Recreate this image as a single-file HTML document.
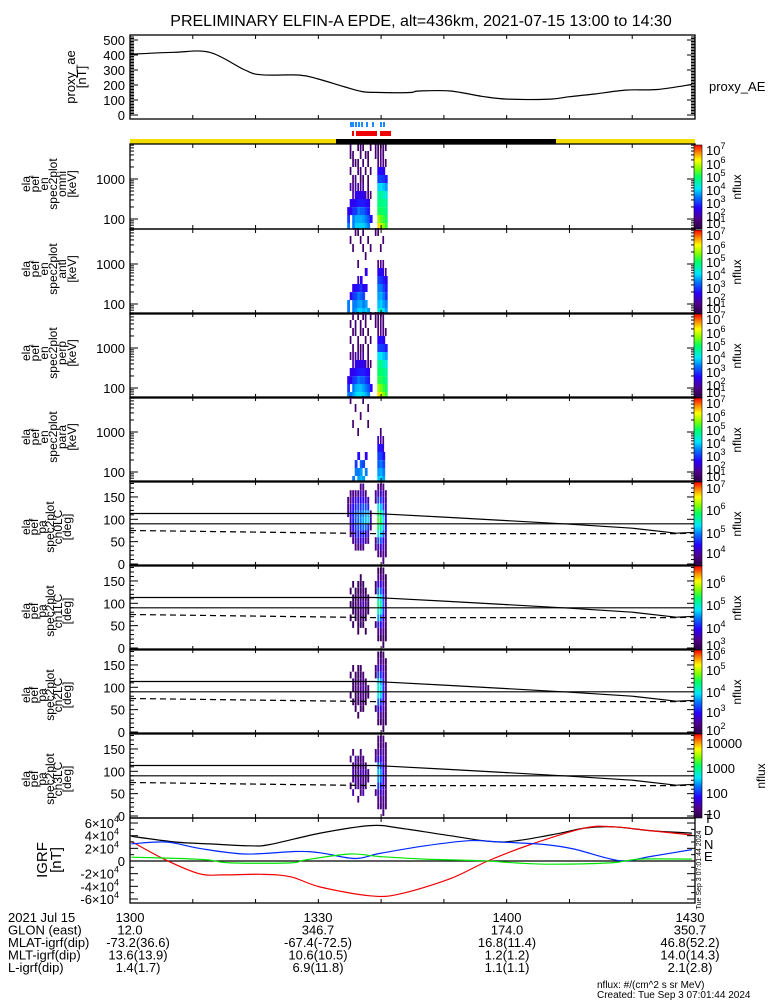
<!DOCTYPE html>
<html><head><meta charset="utf-8"><style>
html,body{margin:0;padding:0;background:#fff}
svg{display:block}
text{font-family:"Liberation Sans",sans-serif;fill:#000}
</style></head><body>
<svg id="fig" width="775" height="1000" viewBox="0 0 775 1000" xmlns="http://www.w3.org/2000/svg">
<defs>
<linearGradient id="cbar" x1="0" y1="1" x2="0" y2="0">
<stop offset="0" stop-color="#28003c"/><stop offset="0.12" stop-color="#50008c"/><stop offset="0.25" stop-color="#2800ff"/><stop offset="0.38" stop-color="#0078ff"/><stop offset="0.48" stop-color="#00e6ff"/><stop offset="0.62" stop-color="#00ff64"/><stop offset="0.72" stop-color="#82ff00"/><stop offset="0.82" stop-color="#ffff00"/><stop offset="0.9" stop-color="#ff9600"/><stop offset="1" stop-color="#ff0000"/>
</linearGradient>
</defs>
<text x="421" y="26" font-size="16" text-anchor="middle">PRELIMINARY ELFIN-A EPDE, alt=436km, 2021-07-15 13:00 to 14:30</text>
<g id="root"></g>
</svg>
<script>
// ---------- data ----------
const aeTimes = [0,7,12.7,18.3,21,27,30,34,37,40,44.6,46,51,56,60,67,70,74,79,84,89.5];
const aeValues = [405,418,418,300,268,266,240,190,156,150,150,160,160,125,106,106,122,140,166,170,204];
const aeTicks = [0,100,200,300,400,500];

const specTimes = [34.6,35.0,35.4,35.8,36.2,36.6,37.0,37.4,37.8,38.2,38.6,39.0,39.4,39.8,40.2,40.6];
const energyBins = [63,100,158,251,398,631,1000,1585,2512,3981,6310];
const omniFlux = [
[3,2.5,2,0,0,0,0,0,0,0,0],[0,0,2,2,0,1.5,0,1,0,1,1],[3,3,2.5,2,1.5,1.2,1,0,1,1,0],[3.5,3.3,2.5,2.2,2,1.5,1.2,0,1,0,0],
[3.5,3.3,3,2.3,2,1.5,0,1.2,1,0,1],[3.5,3.3,2.8,2.3,2,1.2,1,1,0,1,1],[3.5,3.2,2.8,2.3,2,1.5,1,0,1,0,1],[3.3,3,2.5,2.2,1.5,0,0,1,0,1,0],
[3,2.7,2.3,2,1.2,1,1,0,1,1,0],[0,2.2,0,0,1,0,0,1,0,0,1],[0,0,0,0,0,0,0,0,0,0,0],[0,0,0,0,0,0,0,0,0,1,1],
[6,5.3,4.6,4.4,4.2,3.5,2.6,2.1,1.3,1.2,1],[5.5,5,4.6,4.4,4.2,3.6,2.6,2.2,1.3,1.2,1],[5.2,4.8,4.5,4.3,4,3.4,2.5,2,1.2,1,1],[4.8,4.6,4.3,4.2,3.8,3.2,2.3,0,1,0,1]];
const antiFlux = [
[3,3,0,0,0,0,0,0,0,0,0],[0,0,2,0,0,0,0,0,0,1,0],[3,3,2.5,2,0,0,0,0,1,0,0],[3.2,3,2.6,2.2,0,0,0,0,0,0,1],
[3.5,3.2,3,2.3,1.8,0,1,0,0,0,1],[3.5,3.3,2.8,2.5,2,0,0,0,0,1,0],[3.3,3,2.6,2,0,0,0,0,1,0,1],[3.5,3.2,0,2.2,0,2,0,1,0,0,0],
[3.2,0,0,0,0,0,0,0,0,1,0],[0,0,0,0,0,0,0,0,1,0,0],[0,0,0,0,0,0,0,0,0,0,0],[0,0,0,0,0,0,0,0,0,0,1],
[3.8,3.4,3.2,3,2.6,2,1.3,0,0,0,1],[4,3.5,3.3,3,2.5,2.2,1.3,0,1,0,0],[3.6,3.2,3,2.6,2.3,1.8,1.2,0,0,1,0],[3.2,3,2.5,2.3,2,1.5,0,0,0,0,0]];
const perpFlux = [
[3,2.5,2,0,0,0,0,0,0,0,0],[3,0,2,2,0,1.2,0,1,0,1,0],[3.2,3,2.5,2,1.5,1.2,1,0,1,0,1],[3.5,3.3,2.6,2.2,2,1.5,0,0,1,1,0],
[3.6,3.4,3,2.3,2,1.5,1,1.2,0,0,1],[3.6,3.4,2.8,2.3,2,1.2,1,0,1,1,0],[3.5,3.2,2.8,2.3,2,1.5,1,0,1,0,1],[3.3,3,2.5,2.2,1.5,0,0,1,0,1,1],
[3,2.7,2.3,2,1.2,1,1,0,1,0,0],[0,2.2,0,0,1,0,0,1,0,0,1],[0,0,0,0,0,0,0,0,0,0,0],[0,0,0,0,0,0,0,0,0,1,1],
[6,5.3,4.7,4.5,4.3,3.6,2.6,2.1,1.3,1.2,1],[5.6,5.1,4.7,4.5,4.3,3.7,2.6,2.2,1.3,1.2,1],[5.2,4.8,4.5,4.3,4,3.4,2.5,2,1.2,1,1],[4.8,4.6,4.3,4.2,3.8,3.2,2.3,0,1,0,0]];
const paraFlux = [
[0,0,0,0,0,0,0,0,0,0,0],[0,0,0,0,0,0,0,0,0,0,1],[3,0,0,0,0,0,0,1,0,0,0],[0,3,2.5,0,0,0,0,0,0,1,0],
[3.2,3,0,2.2,0,0,1,0,0,0,0],[3.4,3.2,2.8,0,0,0,0,0,1,0,0],[3.2,0,2.6,0,0,0,0,0,0,0,1],[0,3,0,2,0,0,0,0,0,0,0],
[0,0,0,0,0,0,0,1,0,1,0],[0,0,0,0,0,0,0,0,0,0,0],[0,0,0,0,0,0,0,0,0,0,0],[0,0,0,0,0,0,0,0,0,0,0],
[3.5,3.2,2.8,2.6,2.2,1.8,0,0,0,0,0],[3.6,3.3,3,2.6,2.3,1.5,1,0,0,0,0],[3.2,3,2.6,2.2,1.8,1.2,0,0,0,0,0],[0,0,0,0,0,0,0,0,0,0,0]];

const pitchBins = [7.5,22.5,37.5,52.5,67.5,82.5,97.5,112.5,127.5,142.5,157.5,172.5];
const ch0Flux = [
[0,0,0,0,0,0,0,4,4,4,0,0],[0,0,0,0,4,4.2,4.3,4.5,4.3,4,4,0],[0,0,0,4,4.2,4.5,4.6,4.6,4.5,4.3,4,0],[0,0,4,4.2,4.5,4.7,4.8,4.8,4.6,4.4,4,0],
[0,0,4,4.3,4.6,4.8,4.9,4.9,4.7,4.5,4.1,0],[0,0,4,4.3,4.6,4.8,5,4.9,4.7,4.5,4.2,4],[0,0,4,4.3,4.6,4.9,5.1,5,4.8,4.5,4.2,4],[0,0,0,4.2,4.5,4.9,5.2,5.1,4.8,4.4,4,0],
[0,0,0,4,4.3,4.7,5.3,5.2,4.6,4.2,0,0],[0,0,0,0,0,4,4.2,4,0,0,0,0],[0,0,0,0,0,0,0,0,0,0,0,0],[0,0,4,4,0,0,0,0,0,4,4,0],
[0,4,4.3,4.8,5.4,5.8,6,5.8,5.3,4.8,4.3,4],[0,4,4.3,4.8,5.3,5.7,5.9,5.7,5.2,4.7,4.2,4],[4,4,4.2,4.5,4.9,5.2,5.3,5.2,4.8,4.5,4.2,4],[0,4,4,4.2,4.3,4.5,4.5,4.4,4.3,4.2,4,0]];
const ch1Flux = [
[0,0,0,0,0,0,0,0,0,0,0,0],[0,0,0,0,3,0,3,0,3,0,0,0],[0,0,0,3,0,3,3,3,0,3,0,0],[0,0,0,0,3,3,3.1,3,3,0,0,0],
[0,0,3,3,3,3.1,3.2,3.1,3,3,0,0],[0,0,0,3,3.1,3.2,3.3,3.2,3,3,3,0],[0,0,0,3,3,3.2,3.4,3.2,3.1,3,0,0],[0,0,3,0,3,3.1,3.3,3.1,3,0,0,0],
[0,0,0,0,0,3,3,3,0,0,0,0],[0,0,0,0,0,0,0,0,0,0,0,0],[0,0,0,0,0,0,0,0,0,0,0,0],[0,0,0,3,0,0,0,0,3,3,0,0],
[0,3,3.3,3.8,4.3,4.8,5,4.7,4.2,3.7,3.3,3],[0,3,3.3,3.7,4.2,4.7,4.9,4.6,4.1,3.6,3.2,3],[3,3,3.2,3.4,3.7,4,4.1,4,3.7,3.4,3.2,3],[0,3,3,3.1,3.2,3.3,3.3,3.2,3.1,3,3,0]];
const ch2Flux = [
[0,0,0,0,0,0,0,0,0,0,0,0],[0,0,0,0,0,2,0,0,2,0,0,0],[0,0,0,0,2,0,2,2,0,2,0,0],[0,0,0,2,2,2,2.1,2,2,0,0,0],
[0,0,2,0,2,2.1,2.2,2.1,2,2,0,0],[0,0,0,2,2.1,2.2,2.3,2.2,2,2,0,0],[0,0,0,2,2,2.2,2.3,2.2,2.1,0,0,0],[0,0,0,0,2,2.1,2.2,2.1,0,0,0,0],
[0,0,0,0,0,2,2,0,0,0,0,0],[0,0,0,0,0,0,0,0,0,0,0,0],[0,0,0,0,0,0,0,0,0,0,0,0],[0,0,0,2,0,0,0,0,2,2,0,0],
[0,2,2.3,2.8,3.3,3.9,4.1,3.8,3.2,2.7,2.3,2],[0,2,2.3,2.7,3.2,3.8,4,3.7,3.1,2.6,2.2,2],[2,2,2.2,2.4,2.7,3,3.1,3,2.7,2.4,2.2,2],[0,2,2,2.1,2.2,2.3,2.3,2.2,2.1,2,2,0]];
const ch3Flux = [
[0,0,0,0,0,0,0,0,0,0,0,0],[0,0,0,0,1.3,0,0,0,1.3,0,0,0],[0,0,0,1.5,0,1.3,1.5,1.3,0,1.3,0,0],[0,0,0,0,1.3,1.5,1.3,1.3,1.5,0,0,0],
[0,0,1.3,0,1.5,1.3,1.5,1.3,1.3,0,0,0],[0,0,0,1.3,1.3,1.5,1.5,1.3,1.3,1.3,0,0],[0,0,0,1.5,1.3,1.3,1.5,1.3,1.3,0,0,0],[0,0,0,0,1.3,1.3,1.5,1.3,0,0,0,0],
[0,0,0,0,0,1.3,1.3,0,0,0,0,0],[0,0,0,0,0,0,0,0,0,0,0,0],[0,0,0,0,0,0,0,0,0,0,0,0],[0,0,0,1.3,0,0,0,0,1.3,1.3,0,0],
[0,1.3,1.4,1.6,2,2.3,2.4,2.2,1.8,1.5,1.3,1.3],[0,1.3,1.4,1.6,1.9,2.2,2.3,2.1,1.7,1.5,1.3,1.3],[1.3,1.3,1.3,1.5,1.6,1.8,1.8,1.7,1.5,1.4,1.3,1.3],[0,1.3,1.3,1.3,1.4,1.4,1.4,1.4,1.3,1.3,1.3,0]];

const lcTimes = [0,39,50,60,70,80,87,90];
const lossCone = [113,113,105,97,89,80,69,71];
const antiLossCone = [75,68,68,68,68,68,68,69];
const perpAngle = 90;

const igrfTimes = [0.2,7.2,12.7,19,22.3,30.3,38.2,43,51,59,67,72.4,77,82.8,89.5];
const igrfT = [3.9,3.0,2.7,2.4,2.6,4.4,5.6,5.2,4.0,3.0,4.1,5.2,5.4,4.8,4.4];
const igrfTimesD = [0.2,5.6,11,14.8,21,25.6,30.3,38.2,43,51,57,63.8,72.4,77,82.8,89.5];
const igrfD = [3.1,0.2,-2.0,-2.2,-2.1,-2.5,-4.1,-5.5,-5.2,-2.8,0,2.6,5.2,5.4,4.8,4.1];
const igrfTimesN = [0.2,5.8,11,18.3,26.3,30.3,35.8,39.8,47,54,59,66,70.7,78,82.8,89.5];
const igrfN = [2.7,3.0,2.0,1.1,1.5,1.3,0.4,1.2,2.4,3.2,3.0,2.6,1.9,0.05,0.7,1.8];
const igrfTimesE = [0.2,8,12.7,16,25.6,27.8,35,39.8,47,56,61.4,67,76.5,81.2,89.5];
const igrfE = [0.6,0.4,0.15,-0.3,-0.3,0.15,1.1,0.7,0.3,0.05,-0.3,-0.5,-0.3,0.3,0.3];

const footerRows = [
 ['2021 Jul 15','1300','1330','1400','1430'],
 ['GLON (east)','12.0','346.7','174.0','350.7'],
 ['MLAT-igrf(dip)','-73.2(36.6)','-67.4(-72.5)','16.8(11.4)','46.8(52.2)'],
 ['MLT-igrf(dip)','13.6(13.9)','10.6(10.5)','1.2(1.2)','14.0(14.3)'],
 ['L-igrf(dip)','1.4(1.7)','6.9(11.8)','1.1(1.1)','2.1(2.8)']];

// ---------- helpers ----------
const NS='http://www.w3.org/2000/svg';
const root=document.getElementById('root');
const X0=130,X1=695;
function xT(t){return X0+t*(X1-X0)/90;}
function mk(tag,attrs,parent){const e=document.createElementNS(NS,tag);for(const k in attrs)e.setAttribute(k,attrs[k]);(parent||root).appendChild(e);return e;}
const stops=[[0,[40,0,60]],[0.12,[80,0,140]],[0.25,[40,0,255]],[0.38,[0,120,255]],[0.48,[0,230,255]],[0.62,[0,255,100]],[0.72,[130,255,0]],[0.82,[255,255,0]],[0.9,[255,150,0]],[1,[255,0,0]]];
function cmap(f){f=Math.max(0,Math.min(1,f));for(let i=1;i<stops.length;i++){if(f<=stops[i][0]){const a=stops[i-1],b=stops[i],u=(f-a[0])/(b[0]-a[0]);const c=a[1].map((v,j)=>Math.round(v+(b[1][j]-v)*u));return `rgb(${c})`;}}return 'rgb(255,0,0)';}
function frame(y0,y1,name){
  const r=mk('rect',{x:X0,y:y0,width:X1-X0,height:y1-y0,fill:'none',stroke:'#000','stroke-width':1.3});
  
  
  for(let t=10;t<90;t+=10){
    mk('line',{x1:xT(t),x2:xT(t),y1:y0,y2:y0+4,stroke:'#000'});
    mk('line',{x1:xT(t),x2:xT(t),y1:y1,y2:y1-4,stroke:'#000'});
  }
}
function ytick(y,len){mk('line',{x1:X0,x2:X0+len,y1:y,y2:y,stroke:'#000'});mk('line',{x1:X1,x2:X1-len,y1:y,y2:y,stroke:'#000'});}
function ylabel(x,y,s,name){const t=mk('text',{x:x,y:y+5,'font-size':13,'text-anchor':'end'});t.textContent=s;return t;}
function vtitle(lines,xs,yc,fs,name){
  const g=mk('g',{});
  
  
  lines.forEach((s,i)=>{const t=mk('text',{x:0,y:0,'font-size':fs,'text-anchor':'middle',transform:`translate(${xs[i]},${yc}) rotate(-90)`},g);t.textContent=s;});
}
function colorbar(y0,y1,labels,ys,name){
  const r=mk('rect',{x:694,y:y0,width:8,height:y1-y0,fill:'url(#cbar)',stroke:'#000','stroke-width':0.6});
  
  
  labels.forEach((lb,i)=>{
    const t=mk('text',{x:706,y:ys[i]+5,'font-size':13});
    if(typeof lb==='number'){t.textContent='10';const s=mk('tspan',{dy:-6,'font-size':9},t);s.textContent=lb;}else t.textContent=lb;
  });
  const n=mk('text',{x:0,y:0,'font-size':12,'text-anchor':'middle',transform:`translate(${name==='ch3'?765:741},${(y0+y1)/2}) rotate(-90)`});
  n.textContent='nflux';
}
function smoothPath(P){
  let d='M'+P[0][0].toFixed(1)+','+P[0][1].toFixed(1);
  for(let i=0;i<P.length-1;i++){
    const p0=P[Math.max(0,i-1)],p1=P[i],p2=P[i+1],p3=P[Math.min(P.length-1,i+2)];
    const c1=[p1[0]+(p2[0]-p0[0])/6,p1[1]+(p2[1]-p0[1])/6],c2=[p2[0]-(p3[0]-p1[0])/6,p2[1]-(p3[1]-p1[1])/6];
    d+=` C${c1[0].toFixed(1)},${c1[1].toFixed(1)} ${c2[0].toFixed(1)},${c2[1].toFixed(1)} ${p2[0].toFixed(1)},${p2[1].toFixed(1)}`;
  }
  return d;
}
function polyline(ts,vs,fx,fy,col,dash,name,smooth){
  const P=ts.map((t,i)=>[fx(t),fy(vs[i])]);
  const d=smooth?smoothPath(P):'M'+P.map(p=>p[0].toFixed(1)+','+p[1].toFixed(1)).join(' L');
  const p=mk('path',{d:d,fill:'none',stroke:col,'stroke-width':1.2});
  if(dash)p.setAttribute('stroke-dasharray',dash);
  
  
}

// ---------- proxy AE ----------
(function(){
  const y0=35,y1=119;const yV=v=>115-v*(75/500);
  frame(y0,y1,'proxy-ae');
  for(let v=0;v<=520;v+=10){ytick(yV(v),v%100===0?8:4);}
  aeTicks.forEach(v=>ylabel(125,yV(v),String(v),'proxy-ae-tick-'+v));
  polyline(aeTimes,aeValues,xT,yV,'#000',null,'proxy-ae-line',true);
  vtitle(['proxy_ae','[nT]'],[75,86],77,13,'proxy-ae-axis-title');
  const t=mk('text',{x:709,y:91,'font-size':13});t.textContent='proxy_AE';
  
})();

// ---------- status bars ----------
[[350,352],[352,354],[355,357],[358,360],[361,363],[366,368],[372,374],[380,382],[383,385]].forEach(b=>{mk('rect',{x:b[0],y:122,width:b[1]-b[0],height:5,fill:'#1e8cff'});});
[[352,354],[356,377],[380,391]].forEach(b=>{mk('rect',{x:b[0],y:131,width:b[1]-b[0],height:5,fill:'#f00000'});});
mk('rect',{x:130,y:139,width:206,height:5,fill:'#f5dc00'});
mk('rect',{x:336,y:139,width:220,height:5,fill:'#000'});
mk('rect',{x:556,y:139,width:139,height:5,fill:'#f5dc00'});

// ---------- energy spectrograms ----------
const specPanels=[['omni',omniFlux,144],['anti',antiFlux,229],['perp',perpFlux,313],['para',paraFlux,397]];
specPanels.forEach(([nm,data,y0])=>{
  const y1=y0+85;const yE=e=>y0+75-(Math.log10(e)-2)*40;
  const dt=specTimes[1]-specTimes[0];
  data.forEach((col,i)=>col.forEach((v,j)=>{
    if(!v)return;
    const e=energyBins[j];
    const ya=yE(e*Math.pow(10,0.1)),yb=Math.min(y1,yE(e/Math.pow(10,0.1)));
    const r=mk('rect',{x:xT(specTimes[i]).toFixed(1),y:ya.toFixed(1),width:(xT(dt)-X0-(v<2?0.8:-0.3)).toFixed(1),height:(yb-ya).toFixed(1),fill:cmap((v-0.5)/6.5)});
    
    
  }));
  frame(y0,y1,nm);
  for(let d=1;d<=3;d++)for(let m=1;m<10;m++){const y=yE(m*Math.pow(10,d));if(y>y0&&y<y1)ytick(y,m===1?8:4);}
  ylabel(125,yE(1000),'1000',nm+'-tick-1000');ylabel(125,yE(100),'100',nm+'-tick-100');
  vtitle(['ela','pef','en','spec2plot',nm,'[keV]'],[30,39,48,57,66,76],y0+40,12,nm+'-axis-title');
  colorbar(y0+1,y1,[7,6,5,4,3,2,1],[y0+6,y0+20,y0+33,y0+46,y0+59,y0+72,y0+79],nm);
});

// ---------- pitch angle spectrograms ----------
const pitchPanels=[['ch0',ch0Flux,481,3.6,7.2,[7,6,5,4],[488,510,533,553]],
 ['ch1',ch1Flux,565,2.8,6.5,[6,5,4,3],[583,605,628,645]],
 ['ch2',ch2Flux,649,1.7,6.3,[6,5,4,3,2],[655,670,692,712,730]],
 ['ch3',ch3Flux,733,1,4.2,['10000','1000','100','10'],[743,768,793,814]]];
pitchPanels.forEach(([nm,data,y0,vmin,vmax,labs,lys])=>{
  const y1=y0+85;const yP=p=>y1-2-p*0.447;
  const dt=specTimes[1]-specTimes[0];
  data.forEach((col,i)=>col.forEach((v,j)=>{
    if(!v)return;
    const ya=yP(pitchBins[j]+7.5),yb=yP(pitchBins[j]-7.5);
    const r=mk('rect',{x:xT(specTimes[i]).toFixed(1),y:ya.toFixed(1),width:(xT(dt)-X0-0.6).toFixed(1),height:(yb-ya).toFixed(1),fill:cmap((v-vmin)/(vmax-vmin))});
    
    
  }));
  frame(y0,y1,nm);
  for(let p=0;p<=180;p+=10)ytick(yP(p),p%50===0?8:4);
  [150,100,50,0].forEach(p=>ylabel(125,yP(p),String(p),nm+'-tick-'+p));
  polyline(lcTimes,lossCone,xT,yP,'#000',null,nm+'-loss-cone-line',false);
  polyline([0,90],[perpAngle,perpAngle],xT,yP,'#000',null,nm+'-90deg-line',false);
  polyline(lcTimes,antiLossCone,xT,yP,'#000','6,4',nm+'-anti-loss-cone-line',false);
  vtitle(['ela','pef','pa','spec2plot',nm+'LC','[deg]'],[30,38,46,54,62,71],y0+46,12,nm+'-axis-title');
  colorbar(y0+1,y1,labs,lys,nm);
});

// ---------- IGRF ----------
(function(){
  const y0=818,y1=903;const yB=v=>861-v*6.33;
  mk('line',{x1:X0,x2:X1,y1:yB(0),y2:yB(0),stroke:'#000','stroke-width':1.2});
  polyline(igrfTimes,igrfT,xT,yB,'#000',null,'igrf-total-line',true);
  polyline(igrfTimesD,igrfD,xT,yB,'#f00000',null,'igrf-d-line',true);
  polyline(igrfTimesN,igrfN,xT,yB,'#0028ff',null,'igrf-n-line',true);
  polyline(igrfTimesE,igrfE,xT,yB,'#00e600',null,'igrf-e-line',true);
  frame(y0,y1,'igrf');
  for(let v=-6;v<=6;v+=1)ytick(yB(v),v%2===0?8:4);
  [6,4,2,0,-2,-4,-6].forEach(v=>{
    const t=ylabel(125,yB(v),v===0?'0':(v+'×10'),'igrf-tick-'+v);
    if(v!==0){t.setAttribute('x',119);const s=mk('tspan',{dy:-6,'font-size':9},t);s.textContent='4';}
  });
  vtitle(['IGRF','[nT]'],[47,61],860,15,'igrf-axis-title');
  [['T','#000',823],['D','#f00000',835],['N','#0028ff',849],['E','#00e600',861]].forEach(([s,c,y])=>{
    const t=mk('text',{x:704,y:y,'font-size':13,fill:c});t.textContent=s;t.setAttribute('fill',c);
    });
  const st=mk('text',{x:0,y:0,'font-size':7,'text-anchor':'middle',transform:'translate(701,870) rotate(-90)'});st.textContent='Tue Sep  3 07:01:44 2024';
})();

// ---------- footer ----------
const colX=[130,318,507,695];
footerRows.forEach((row,i)=>{
  const y=922+i*12.5;
  const t=mk('text',{x:8,y:y,'font-size':13});t.textContent=row[0];
  
  for(let k=1;k<5;k++){const v=mk('text',{x:colX[k-1]+(k===4?-5:0)+(i>1&&k===1?8:0),y:y,'font-size':13,'text-anchor':'middle'});v.textContent=row[k];}
});
const n1=mk('text',{x:597,y:988,'font-size':10});n1.textContent='nflux: #/(cm^2 s sr MeV)';
const n2=mk('text',{x:597,y:998,'font-size':10});n2.textContent='Created: Tue Sep  3 07:01:44 2024';
</script>
</body></html>
